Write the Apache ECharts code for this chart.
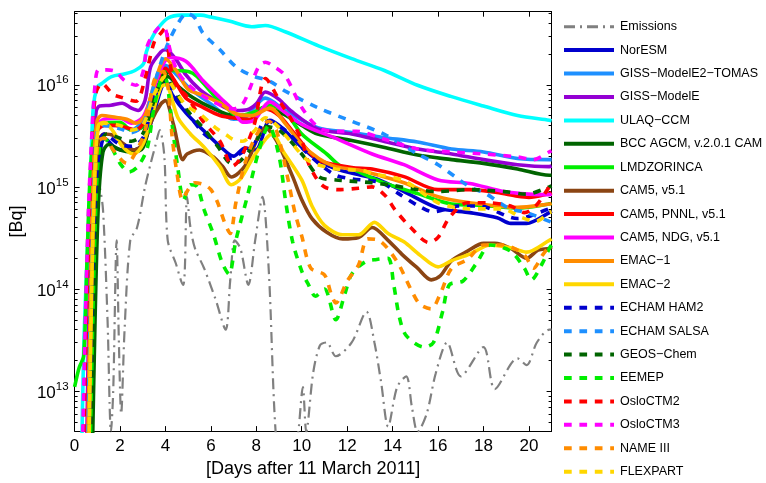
<!DOCTYPE html>
<html>
<head>
<meta charset="utf-8">
<script src="https://cdn.jsdelivr.net/npm/echarts@6/dist/echarts.min.js"></script>
<style>
html, body { margin: 0; padding: 0; background: #fff; }
#main { width: 766px; height: 483px; }
</style>
</head>
<body>
<div id="main"></div>
<script>
// [day, Bq] pairs
var emissions = [[0.6,1e12],[0.8,1e13],[0.95,2e14],[1.1,1e15],[1.25,6e14],[1.45,5e13],[1.6,4e12],[1.7,1e13],[1.85,3e14],[1.95,3e13],[2.05,6e12],[2.2,4e13],[2.45,3e14],[2.75,4e14],[3.1,1e15],[3.35,1.7e15],[3.55,2.5e15],[3.75,3.6e15],[3.95,2e15],[4.1,3e14],[4.45,1.8e14],[4.78,1.1e14],[4.85,1.5e14],[4.95,8e14],[5.1,4e14],[5.3,2.5e14],[5.7,1.6e14],[6.2,8e13],[6.65,4e13],[6.85,1.2e14],[7.05,3e14],[7.3,2.5e14],[7.65,1.1e14],[7.95,3e14],[8.27,8e14],[8.55,1.5e14],[8.85,4e12],[9.3,5e11],[9.85,4e12],[10.05,1.1e13],[10.2,4e12],[10.5,1.5e13],[10.8,2.8e13],[11.1,3e13],[11.5,2.2e13],[12.2,3e13],[12.85,6e13],[13.2,3e13],[13.5,1.2e13],[13.8,4.5e12],[14.2,1.1e13],[14.6,1.4e13],[14.85,7e12],[15.1,4e12],[15.5,6e12],[15.9,1.5e13],[16.4,3e13],[17.0,1.4e13],[18.0,2.7e13],[18.5,1.05e13],[19.5,2.1e13],[19.9,1.8e13],[20.35,3e13],[20.9,4e13],[21,4e13]];
var noresm = [[0.65,1e12],[0.8,5e13],[0.95,6e14],[1.1,2e15],[1.3,3e15],[1.5,2.8e15],[1.8,2.4e15],[2.2,2.3e15],[2.6,2.3e15],[3.0,2.6e15],[3.4,4.5e15],[3.8,9e15],[4.0,1.08e16],[4.3,8e15],[4.9,5.3e15],[5.65,3.6e15],[6.4,2.5e15],[7.0,2e15],[7.5,2.4e15],[7.97,2.3e15],[8.6,4.5e15],[9.0,4e15],[10.0,2.45e15],[10.75,1.8e15],[11.5,1.5e15],[12.6,1.3e15],[13.3,1.2e15],[14.5,9e14],[16.0,6.2e14],[17.4,5.6e14],[18.6,5e14],[19.2,4.4e14],[19.9,4.4e14],[20.9,5.6e14],[21,5.8e14]];
var gissTomas = [[0.55,1e12],[0.7,1e14],[0.85,1.5e15],[1.0,3.5e15],[1.2,4e15],[2.0,4e15],[2.5,3.6e15],[3.0,4.5e15],[3.5,9e15],[4.0,1.55e16],[4.5,1.25e16],[5.0,9.5e15],[6.0,6.5e15],[7.0,4.6e15],[7.5,4.8e15],[8.4,7.4e15],[9.27,5.6e15],[10.7,3.8e15],[12.2,3.4e15],[13.6,3.05e15],[15.1,2.75e15],[16.6,2.35e15],[18.0,2.2e15],[19.5,1.9e15],[20.9,1.85e15],[21,1.85e15]];
var gissE = [[0.5,1e12],[0.65,1e14],[0.8,2e15],[0.95,5.5e15],[1.1,6.2e15],[1.6,6.3e15],[2.1,6.6e15],[2.5,5.9e15],[2.8,5.6e15],[3.1,7e15],[3.35,1.5e16],[3.8,2.1e16],[4.0,2.2e16],[4.4,1.85e16],[4.9,1.25e16],[5.5,9e15],[6.0,7.5e15],[6.6,6e15],[7.1,5.6e15],[7.6,5.7e15],[8.0,6.5e15],[8.4,8.5e15],[9.0,7.2e15],[9.5,5.6e15],[10.7,3.7e15],[12.2,3.3e15],[13.6,2.8e15],[15.1,2.35e15],[16.6,2.1e15],[18.0,1.85e15],[19.5,1.65e15],[20.9,1.58e15],[21,1.6e15]];
var ulaq = [[0.28,1e12],[0.4,2.5e13],[0.55,2e14],[0.7,1.2e15],[0.82,6e15],[1.0,9.5e15],[1.2,1.03e16],[1.63,1.2e16],[2.23,1.28e16],[2.66,1.38e16],[3.03,1.6e16],[3.16,2.1e16],[3.38,2.8e16],[3.68,3.6e16],[4.12,4.5e16],[4.69,4.8e16],[5.56,4.8e16],[6.0,4.6e16],[6.8,4.2e16],[7.8,3.7e16],[8.4,3.8e16],[9.27,3.3e16],[10.74,2.4e16],[12.2,1.8e16],[13.64,1.38e16],[15.1,9.9e15],[16.56,7.7e15],[18.0,6.2e15],[19.5,5e15],[20.9,4.5e15],[21,4.45e15]];
var bcc = [[0.75,1e12],[0.9,5e13],[1.05,7e14],[1.25,2.2e15],[1.5,2.6e15],[2.0,2.3e15],[2.5,2.2e15],[3.0,2.4e15],[3.4,5e15],[3.8,1e16],[4.1,1.2e16],[4.6,9.5e15],[5.2,7.5e15],[6.0,6e15],[7.0,5e15],[7.6,5e15],[8.4,6e15],[9.3,5e15],[10.0,4e15],[10.7,3.3e15],[12.2,2.85e15],[13.6,2.45e15],[15.1,2.05e15],[16.6,1.85e15],[18.0,1.7e15],[19.5,1.5e15],[20.9,1.3e15],[21,1.3e15]];
var lmdz = [[0,1.1e13],[0.2,1.7e13],[0.4,2.2e13],[0.55,2e14],[0.7,1.5e15],[0.9,3.5e15],[1.2,4.2e15],[2.0,4.3e15],[2.5,3.6e15],[3.0,3.9e15],[3.4,7e15],[3.9,1.35e16],[4.2,1.38e16],[5.0,1.35e16],[5.4,1.2e16],[6.2,7.6e15],[6.9,5.4e15],[7.1,5e15],[7.8,5.3e15],[8.6,6.3e15],[9.3,5.3e15],[10.0,3.3e15],[11.1,2.1e15],[11.7,1.6e15],[12.2,1.5e15],[13.6,1.1e15],[15.1,8.6e14],[16.6,6.8e14],[18.0,6.6e14],[19.5,6.2e14],[20.9,6.8e14],[21,6.9e14]];
var cam5 = [[0.6,1e12],[0.75,1e14],[0.9,1.2e15],[1.05,2.8e15],[1.3,3.3e15],[1.7,3.2e15],[2.1,2.7e15],[2.6,2.3e15],[3.0,2.6e15],[3.4,4.5e15],[3.8,6.5e15],[4.0,7e15],[4.35,4.1e15],[4.77,1.85e15],[4.95,2.1e15],[5.5,2.3e15],[6.1,1.97e15],[6.5,1.6e15],[6.9,1.25e15],[7.5,1.6e15],[8.4,3.8e15],[8.9,2.8e15],[9.6,1.26e15],[10.0,7.5e14],[10.45,4.9e14],[11.1,3.6e14],[11.8,3.1e14],[12.5,3.2e14],[13.1,4e14],[13.8,3e14],[14.4,2.2e14],[15.1,1.6e14],[15.7,1.23e14],[16.1,1.35e14],[16.6,1.9e14],[17.3,2.35e14],[18.0,2.8e14],[18.5,2.8e14],[19.2,2.5e14],[19.9,2e14],[20.4,2.4e14],[20.9,2.5e14],[21,2.6e14]];
var pnnl = [[0.55,1e12],[0.7,1e14],[0.85,1.5e15],[1.0,3.5e15],[1.3,4e15],[1.8,4e15],[2.3,3.8e15],[2.7,3.6e15],[3.1,4.5e15],[3.5,9e15],[4.0,1.45e16],[4.4,1.1e16],[4.9,7.4e15],[5.65,6e15],[6.4,5e15],[7.1,4.7e15],[7.7,4.6e15],[8.4,5.8e15],[9.0,5e15],[9.6,3.5e15],[10.7,1.85e15],[12.2,1.55e15],[13.1,1.5e15],[14.5,1.26e15],[16.0,9.4e14],[17.4,9.4e14],[18.6,8.8e14],[19.5,8.1e14],[20.0,7.9e14],[20.9,8.6e14],[21,8.8e14]];
var ndg = [[0.55,1e12],[0.7,1e14],[0.85,1.5e15],[1.0,4e15],[1.3,4.6e15],[2.0,4.7e15],[2.5,4.2e15],[3.0,4.8e15],[3.4,8e15],[3.9,1.6e16],[4.2,1.85e16],[4.9,1.7e16],[5.65,1.1e16],[6.4,7.5e15],[7.0,5.6e15],[7.4,4.3e15],[7.9,4.5e15],[8.6,6.8e15],[9.2,5.5e15],[10.0,4.1e15],[11.4,3.05e15],[13.1,2.1e15],[14.5,1.65e15],[16.0,1.17e15],[17.4,1.08e15],[18.9,9e14],[20.0,8.5e14],[20.9,8.4e14],[21,8.5e14]];
var emac1 = [[0.55,1e12],[0.7,1e14],[0.85,1.8e15],[1.0,4.5e15],[1.2,5e15],[1.8,4.8e15],[2.3,4.6e15],[2.7,4.2e15],[3.1,5e15],[3.5,1e16],[4.0,1.8e16],[4.5,1.35e16],[5.0,9e15],[5.65,7.9e15],[6.4,6.6e15],[7.1,5.2e15],[7.8,5e15],[8.6,5.9e15],[9.3,4.1e15],[10.0,2.6e15],[10.75,1.9e15],[11.5,1.58e15],[12.6,1.45e15],[13.1,1.35e15],[14.5,1.1e15],[16.0,8e14],[17.4,7e14],[19.5,6.3e14],[20.9,6.8e14],[21,6.9e14]];
var emac2 = [[0.6,1e12],[0.75,1e14],[0.9,1.5e15],[1.05,4e15],[1.3,4.3e15],[1.7,3.5e15],[2.1,2.5e15],[2.6,2.1e15],[3.0,2.6e15],[3.4,5e15],[3.8,9.5e15],[4.0,1e16],[4.55,4.75e15],[5.1,3.3e15],[5.7,2.45e15],[6.4,1.58e15],[6.9,1.05e15],[7.3,1.2e15],[7.9,2e15],[8.7,3.3e15],[9.2,2.2e15],[10.0,1.17e15],[10.45,6.5e14],[11.0,4.2e14],[11.8,3.4e14],[12.5,3.4e14],[13.2,4.5e14],[13.8,3.5e14],[14.5,2.9e14],[15.2,2.15e14],[16.0,1.65e14],[16.6,1.9e14],[17.4,2.2e14],[18.3,2.7e14],[19.3,2.5e14],[19.9,2.3e14],[20.9,3e14],[21,3.1e14]];
var echamHam2 = [[0.6,1e12],[0.75,5e13],[0.9,8e14],[1.05,2.5e15],[1.3,3.3e15],[1.6,3e15],[2.0,2.6e15],[2.5,2.5e15],[3.0,3e15],[3.4,6e15],[3.8,1.1e16],[4.0,1.15e16],[4.4,8e15],[5.0,5.2e15],[5.65,3.4e15],[6.3,2.6e15],[6.9,1.9e15],[7.4,2.2e15],[7.9,2.6e15],[8.4,4.5e15],[9.27,3.6e15],[10.1,2.3e15],[10.75,1.7e15],[11.5,1.3e15],[12.2,1.2e15],[13.5,1.1e15],[14.3,8.5e14],[15.1,6.6e14],[15.8,5.7e14],[16.9,6.5e14],[17.8,6.5e14],[19.5,4.9e14],[20.9,6.1e14],[21,6.2e14]];
var echamSalsa = [[0.55,1e12],[0.7,1e14],[0.85,1.5e15],[1.0,3.5e15],[1.3,4e15],[2.0,3.7e15],[2.5,3.4e15],[3.0,4e15],[3.5,1e16],[4.0,2.2e16],[4.5,3.8e16],[4.95,5e16],[5.3,4.5e16],[5.65,3.2e16],[6.4,2.2e16],[7.1,1.5e16],[7.8,1.23e16],[8.6,1.08e16],[9.3,8.6e15],[10.75,5.9e15],[12.2,4.4e15],[13.6,3.3e15],[15.1,2.1e15],[16.0,1.65e15],[17.4,1e15],[18.1,8.6e14],[19.1,6.2e14],[19.9,5.6e14],[20.9,4.6e14],[21,4.5e14]];
var geos = [[0.7,1e12],[0.85,5e13],[1.0,8e14],[1.15,2.5e15],[1.4,3.3e15],[2.0,3e15],[2.5,2.8e15],[3.0,3.3e15],[3.5,7e15],[4.0,1.3e16],[4.4,9e15],[5.0,5.5e15],[5.65,3.8e15],[6.3,2.5e15],[6.9,1.7e15],[7.3,1.8e15],[8.0,2.8e15],[8.4,3.9e15],[9.0,3.6e15],[10.0,2.1e15],[10.75,1.26e15],[11.5,1.17e15],[13.1,1.1e15],[13.8,1.05e15],[16.0,9e14],[17.4,9.4e14],[18.9,9e14],[19.9,8.5e14],[20.9,1e15],[21,1.02e15]];
var eemep = [[0.65,1e12],[0.8,5e13],[0.95,8e14],[1.1,2.5e15],[1.3,3e15],[1.6,2.5e15],[2.0,1.7e15],[2.4,1.4e15],[2.8,1.6e15],[3.2,2.4e15],[3.5,6e15],[3.9,1.2e16],[4.05,1.1e16],[4.3,4e15],[4.55,1.5e15],[4.8,7.5e14],[5.1,1.05e15],[5.4,1e15],[5.7,6e14],[6.1,3.5e14],[6.5,1.8e14],[6.8,1.4e14],[7.1,3e14],[7.6,8e14],[8.1,2.2e15],[8.55,4e15],[9.0,2e15],[9.3,7e14],[9.6,2.9e14],[10.0,1.5e14],[10.3,1.1e14],[10.6,8.5e13],[11.0,1e14],[11.5,5e13],[11.9,9e13],[12.2,1.4e14],[12.8,1.85e14],[13.3,1.95e14],[13.8,2e14],[14.05,1.1e14],[14.3,5.3e13],[14.6,3.5e13],[15.4,2.7e13],[15.8,3e13],[16.2,6e13],[16.5,1.1e14],[17.1,1.2e14],[17.7,1.8e14],[18.3,2.7e14],[19.2,2.35e14],[19.8,1.6e14],[20.1,1.23e14],[20.6,1.8e14],[20.9,2.5e14],[21,2.7e14]];
var osloCtm2 = [[0.35,1e12],[0.5,3e13],[0.65,5e14],[0.8,4e15],[0.95,8.5e15],[1.2,1.03e16],[1.7,8e15],[2.0,7.6e15],[2.7,6.9e15],[3.1,1.15e16],[3.5,2.6e16],[3.8,3.2e16],[4.0,3.6e16],[4.2,1.6e16],[4.5,9.5e15],[4.9,7.9e15],[5.65,4.4e15],[6.4,2.8e15],[6.96,1.6e15],[7.3,1.9e15],[7.9,4e15],[8.4,1.15e16],[9.1,6.5e15],[9.5,4.75e15],[10.0,2.85e15],[10.3,1.7e15],[10.6,1.26e15],[11.0,1e15],[11.6,9.4e14],[12.5,9.7e14],[13.1,1e15],[13.7,8.1e14],[14.1,6e14],[14.8,4e14],[15.6,2.85e14],[16.0,3.2e14],[16.5,5e14],[17.3,7e14],[18.2,7e14],[19.2,6.5e14],[19.8,5.6e14],[20.3,6.5e14],[20.9,1e15],[21,1.05e15]];
var osloCtm3 = [[0.3,1e12],[0.45,3e13],[0.6,5e14],[0.75,3e15],[0.9,1e16],[1.05,1.4e16],[1.4,1.4e16],[1.8,1.35e16],[2.2,1.1e16],[2.7,9.9e15],[3.0,1.3e16],[3.2,2.4e16],[3.5,3.2e16],[3.8,3.7e16],[4.0,3.5e16],[4.2,2.2e16],[4.5,1.4e16],[5.0,1e16],[6.0,7e15],[7.0,5.8e15],[7.4,6.5e15],[7.7,9e15],[8.1,1.5e16],[8.4,1.66e16],[8.8,1.5e16],[9.27,1.23e16],[10.0,6e15],[10.75,3.8e15],[11.6,3.5e15],[12.4,3.5e15],[13.6,2.95e15],[15.1,2.35e15],[16.6,2.2e15],[18.0,2.1e15],[19.5,1.97e15],[20.2,1.85e15],[20.9,2.2e15],[21,2.25e15]];
var nameIII = [[0.6,1e12],[0.75,1e14],[0.9,1e15],[1.05,2.8e15],[1.3,3e15],[1.7,2.3e15],[2.1,1.8e15],[2.3,1.7e15],[2.6,2e15],[3.1,3.5e15],[3.5,1.1e16],[3.9,1.35e16],[4.1,1e16],[4.3,3e15],[4.5,1.4e15],[4.75,7.5e14],[5.0,9.4e14],[5.3,1.1e15],[5.7,1.05e15],[6.0,9.4e14],[6.3,7e14],[6.6,4.5e14],[6.85,3.5e14],[7.1,7e14],[7.5,1.7e15],[8.0,3.2e15],[8.55,4.4e15],[8.9,3.5e15],[9.4,1.17e15],[9.7,5.6e14],[10.0,3.3e14],[10.4,1.6e14],[11.0,1.38e14],[11.3,8.9e13],[11.5,7.3e13],[12.0,1.2e14],[12.5,1.72e14],[12.9,3.1e14],[13.4,3e14],[14.2,1.85e14],[14.8,1e14],[15.2,7.1e13],[15.7,6.4e13],[16.1,9e13],[16.6,1.6e14],[17.3,1.95e14],[18.0,2.7e14],[18.9,2.7e14],[19.8,2.15e14],[20.2,1.6e14],[20.6,2.15e14],[20.9,2.6e14],[21,2.7e14]];
var flexpart = [[0.6,1e12],[0.75,1e14],[0.9,1.5e15],[1.05,3.8e15],[1.3,4.2e15],[2.0,4e15],[2.5,3.6e15],[3.0,4e15],[3.5,8e15],[4.0,1.2e16],[4.4,9e15],[4.9,6.3e15],[5.6,5e15],[6.2,3.8e15],[6.7,3.2e15],[7.0,2.9e15],[7.4,2.8e15],[7.9,3.5e15],[8.4,4.75e15],[8.9,4e15],[9.5,2.8e15],[10.3,1.8e15],[11.5,1.5e15],[12.7,1.45e15],[13.1,1.35e15],[14.5,1.15e15],[16.0,7e14],[17.4,6.1e14],[18.8,6.1e14],[19.7,5e14],[20.3,4.6e14],[20.9,5.6e14],[21,5.7e14]];

var names = ['Emissions', 'NorESM', 'GISS\u2212ModelE2\u2212TOMAS', 'GISS\u2212ModelE', 'ULAQ\u2212CCM',
	'BCC AGCM, v.2.0.1 CAM', 'LMDZORINCA', 'CAM5, v5.1', 'CAM5, PNNL, v5.1', 'CAM5, NDG, v5.1',
	'EMAC\u22121', 'EMAC\u22122', 'ECHAM HAM2', 'ECHAM SALSA', 'GEOS\u2212Chem', 'EEMEP',
	'OsloCTM2', 'OsloCTM3', 'NAME III', 'FLEXPART'];
var values = [emissions, noresm, gissTomas, gissE, ulaq, bcc, lmdz, cam5, pnnl, ndg, emac1, emac2,
	echamHam2, echamSalsa, geos, eemep, osloCtm2, osloCtm3, nameIII, flexpart];

var xTicks = [0, 2, 4, 6, 8, 10, 12, 14, 16, 18, 20];
var yTicks = [1e13, 1e14, 1e15, 1e16];

// styles
var colors = ['#808080', '#0000cd', '#1e90ff', '#9400d3', '#00ffff', '#006400', '#00ee00', '#8b4513',
	'#ff0000', '#ff00ff', '#ff8c00', '#ffd700', '#0000cd', '#1e90ff', '#006400', '#00ee00',
	'#ff0000', '#ff00ff', '#ff8c00', '#ffd700'];
var yMin = 4.07e12, yMax = 5.19e16;
var font = 'Liberation Sans, Arial, Helvetica, sans-serif';

var yMinor = [];
for (var p = 12; p <= 16; p++) {
	for (var k = 2; k <= 9; k++) {
		var v = k * Math.pow(10, p);
		if (v > yMin && v < yMax) yMinor.push(v);
	}
}

function dashOf(i) {
	if (i == 0) return [11, 5, 2, 5];
	if (i >= 12) return [7.7, 7.7];
	return null;
}

var series = [];
var legendItems = [];
for (var i = 0; i < names.length; i++) {
	var dash = dashOf(i);
	series.push({
		name: names[i],
		type: 'line',
		data: values[i],
		symbol: 'none',
		smooth: 0.3,
		clip: true,
		z: 2 + i,
		lineStyle: { color: colors[i], width: i == 0 ? 2.2 : 3.6, type: dash ? dash : 'solid', cap: 'butt' },
		itemStyle: { color: colors[i] },
		emphasis: { disabled: true }
	});

	// legend drawn by hand: line sample + label
	var yc = 26.7 + i * 23.42;
	legendItems.push({
		type: 'line',
		shape: { x1: 564, y1: yc, x2: 614, y2: yc },
		style: { stroke: colors[i], lineWidth: i == 0 ? 3 : 4, lineDash: dash, lineCap: 'butt' },
		silent: true
	});
	legendItems.push({
		type: 'text',
		x: 620,
		y: yc,
		style: { text: names[i], fill: '#000', fontSize: 12.5, fontFamily: font, align: 'left', verticalAlign: 'middle', textAlign: 'left', textVerticalAlign: 'middle' },
		silent: true
	});
}

function yAxisDef(pos, major) {
	return {
		type: 'log',
		position: pos,
		min: yMin,
		max: yMax,
		axisLine: { show: major, onZero: false, lineStyle: { color: '#000', width: 1 } },
		axisTick: { show: true, inside: true, length: major ? 5 : 3, customValues: major ? yTicks : yMinor, lineStyle: { color: '#000' } },
		axisLabel: { show: false },
		minorTick: { show: false },
		splitLine: { show: false }
	};
}

var yMain = yAxisDef('left', true);
yMain.axisLabel = {
	show: true,
	customValues: yTicks,
	margin: 6,
	formatter: function (v) {
		var e = Math.round(Math.log10(v));
		return '{b|10}{s|' + e + '}';
	},
	rich: {
		b: { fontSize: 17, fontFamily: font, color: '#000', verticalAlign: 'bottom' },
		s: { fontSize: 11.5, fontFamily: font, color: '#000', verticalAlign: 'bottom', padding: [0, 0, 9, 0] }
	}
};
yMain.name = '[Bq]';
yMain.nameLocation = 'middle';
yMain.nameGap = 37;
yMain.nameTextStyle = { fontSize: 18, fontFamily: font, color: '#000' };

var chart = echarts.init(document.getElementById('main'));
var option = {
	animation: false,
	backgroundColor: '#fff',
	grid: { left: 70.7, right: 214.4, top: 11.7, bottom: 43, containLabel: false },
	xAxis: [{
		type: 'value',
		position: 'bottom',
		min: 0,
		max: 21,
		interval: 2,
		axisLine: { onZero: false, lineStyle: { color: '#000', width: 1 } },
		axisTick: { inside: true, length: 5, customValues: xTicks, lineStyle: { color: '#000' } },
		axisLabel: { fontSize: 17, fontFamily: font, color: '#000', margin: 7, customValues: xTicks },
		splitLine: { show: false },
		name: '[Days after 11 March 2011]',
		nameLocation: 'middle',
		nameGap: 16,
		nameTextStyle: { fontSize: 18, fontFamily: font, color: '#000' }
	}, {
		type: 'value',
		position: 'top',
		min: 0,
		max: 21,
		interval: 2,
		axisLine: { onZero: false, lineStyle: { color: '#000', width: 1 } },
		axisTick: { inside: true, length: 5, customValues: xTicks, lineStyle: { color: '#000' } },
		axisLabel: { show: false },
		splitLine: { show: false }
	}],
	yAxis: [yMain, yAxisDef('left', false), yAxisDef('right', true), yAxisDef('right', false)],
	graphic: legendItems,
	series: series
};
chart.setOption(option);
</script>
</body>
</html>
